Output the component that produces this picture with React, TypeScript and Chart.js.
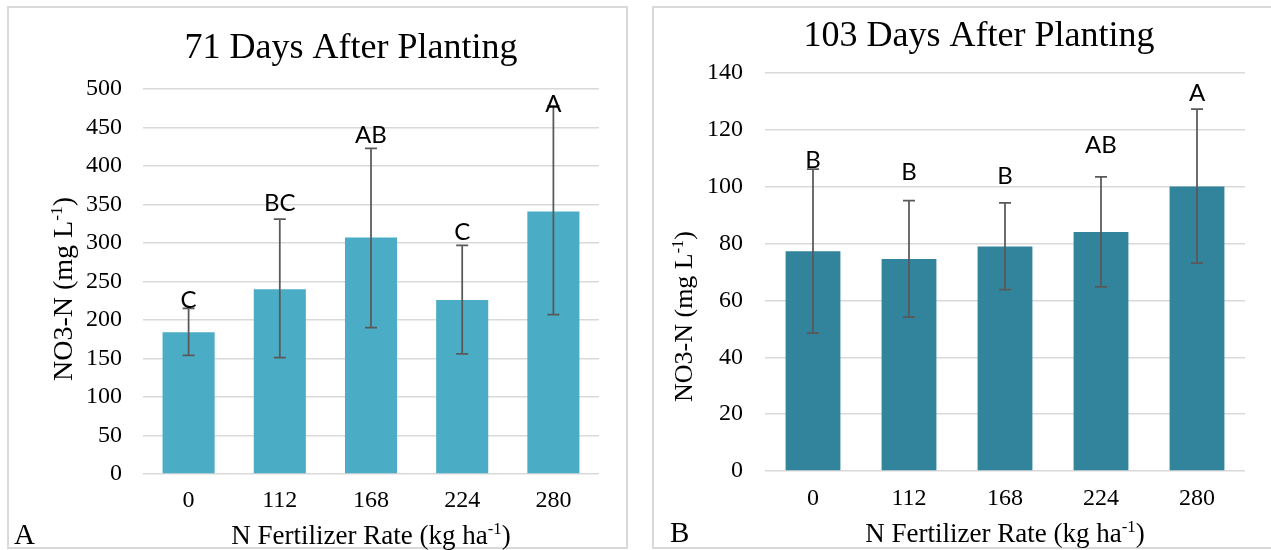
import React, { useEffect, useRef } from "react";
import { Chart, registerables } from "chart.js";

Chart.register(...registerables);

// ---------- data ----------
const rateLabels = ["0", "112", "168", "224", "280"];

const day71Mean = [184, 240, 307, 226, 341];
const day71Low = [154, 151, 190, 156, 207];
const day71High = [215, 331, 423, 297, 478];
const day71Letters = ["C", "BC", "AB", "C", "A"];
const day71LetterAt = [216, 342, 430, 304, 470];
const day71YMax = 500;
const day71YStep = 50;

const day103Mean = [77.3, 74.6, 79.0, 84.1, 100.1];
const day103Low = [48.5, 54.1, 63.8, 64.8, 73.1];
const day103High = [106.2, 95.1, 94.3, 103.5, 127.3];
const day103Letters = ["B", "B", "B", "AB", "A"];
const day103LetterAt = [106.5, 102.4, 101.0, 111.7, 130.0];
const day103YMax = 140;
const day103YStep = 20;

const title71 = "71 Days After Planting";
const title103 = "103 Days After Planting";
const xTitleParts = [
  { t: "N Fertilizer Rate (kg ha" },
  { t: "-1", sup: true },
  { t: ")" },
];
const yTitleParts = [
  { t: "NO3-N (mg L" },
  { t: "-1", sup: true },
  { t: ")" },
];

const SERIF = "'Liberation Serif', 'Times New Roman', serif";
const SANS = "Lato, 'Open Sans', sans-serif";

// ---------- layout per panel ----------
const panels = [
  {
    key: "a",
    canvasLeft: 0,
    width: 640,
    title: title71,
    mean: day71Mean,
    low: day71Low,
    high: day71High,
    letters: day71Letters,
    letterAt: day71LetterAt,
    yMax: day71YMax,
    yStep: day71YStep,
    color: "#4BACC6",
    padTop: 89,
    padRight: 41,
    yAxisW: 143,
    xAxisH: 76,
    yTickPad: 21,
    xTickPad: 15,
    titleX: 351,
    titleY: 58,
    xTitleX: 371,
    xTitleY: 544,
    yTitleX: 71.7,
    yTitleY: 289,
    yTitleSize: 28,
    panelLetter: "A",
    panelLetterX: 14,
    panelLetterY: 544,
  },
  {
    key: "b",
    canvasLeft: 640,
    width: 631,
    title: title103,
    mean: day103Mean,
    low: day103Low,
    high: day103High,
    letters: day103Letters,
    letterAt: day103LetterAt,
    yMax: day103YMax,
    yStep: day103YStep,
    color: "#31849B",
    padTop: 73,
    padRight: 26,
    yAxisW: 125,
    xAxisH: 79,
    yTickPad: 22,
    xTickPad: 16,
    titleX: 339,
    titleY: 45.6,
    xTitleX: 365,
    xTitleY: 542,
    yTitleX: 52,
    yTitleY: 316.6,
    yTitleSize: 26,
    panelLetter: "B",
    panelLetterX: 30,
    panelLetterY: 542,
  },
];

type Part = { t: string; sup?: boolean };

function drawRich(
  ctx: CanvasRenderingContext2D,
  parts: Part[],
  cx: number,
  baseY: number,
  size: number
) {
  const supSize = size * 0.62;
  const widths = parts.map((p) => {
    ctx.font = `${p.sup ? supSize : size}px ${SERIF}`;
    return ctx.measureText(p.t).width;
  });
  const total = widths.reduce((a, b) => a + b, 0);
  let x = cx - total / 2;
  ctx.textAlign = "left";
  ctx.textBaseline = "alphabetic";
  parts.forEach((p, i) => {
    ctx.font = `${p.sup ? supSize : size}px ${SERIF}`;
    ctx.fillText(p.t, x, p.sup ? baseY - size * 0.36 : baseY);
    x += widths[i];
  });
}

function Panel({ p }: { p: any }) {
  const ref = useRef<HTMLCanvasElement>(null);
  useEffect(() => {
    const canvas = ref.current;
    if (!canvas) return;
    const overlay = {
      id: "overlay_" + p.key,
      afterDatasetsDraw(chart: any) {
        const ctx: CanvasRenderingContext2D = chart.ctx;
        const xs = chart.scales.x;
        const ys = chart.scales.y;
        ctx.save();
        // error bars
        ctx.strokeStyle = "#595959";
        ctx.lineWidth = 1.75;
        for (let i = 0; i < p.mean.length; i++) {
          const x = xs.getPixelForValue(i);
          const yh = ys.getPixelForValue(p.high[i]);
          const yl = ys.getPixelForValue(p.low[i]);
          ctx.beginPath();
          ctx.moveTo(x, yh);
          ctx.lineTo(x, yl);
          ctx.moveTo(x - 6, yh);
          ctx.lineTo(x + 6, yh);
          ctx.moveTo(x - 6, yl);
          ctx.lineTo(x + 6, yl);
          ctx.stroke();
        }
        // significance letters
        ctx.fillStyle = "#000";
        ctx.font = `24px ${SANS}`;
        ctx.textAlign = "center";
        ctx.textBaseline = "alphabetic";
        for (let i = 0; i < p.letters.length; i++) {
          const x = xs.getPixelForValue(i);
          const y = ys.getPixelForValue(p.letterAt[i]);
          ctx.fillText(p.letters[i], x, y);
        }
        // chart title
        ctx.font = `36px ${SERIF}`;
        ctx.textAlign = "center";
        ctx.fillText(p.title, p.titleX, p.titleY);
        // x axis title
        drawRich(ctx, xTitleParts, p.xTitleX, p.xTitleY, 27);
        // y axis title
        ctx.save();
        ctx.translate(p.yTitleX, p.yTitleY);
        ctx.rotate(-Math.PI / 2);
        drawRich(ctx, yTitleParts, 0, 0, p.yTitleSize);
        ctx.restore();
        // panel letter
        ctx.font = `29px ${SERIF}`;
        ctx.textAlign = "left";
        ctx.fillText(p.panelLetter, p.panelLetterX, p.panelLetterY);
        ctx.restore();
      },
    };
    const chart = new Chart(canvas, {
      type: "bar",
      data: {
        labels: rateLabels,
        datasets: [
          {
            data: p.mean,
            backgroundColor: p.color,
            borderWidth: 0,
            barPercentage: 0.571,
            categoryPercentage: 1,
          },
        ],
      },
      options: {
        animation: false,
        responsive: false,
        maintainAspectRatio: false,
        devicePixelRatio: 1,
        layout: {
          padding: { top: p.padTop, right: p.padRight, left: 0, bottom: 0 },
        },
        plugins: {
          legend: { display: false },
          tooltip: { enabled: false },
          title: { display: false },
        },
        scales: {
          x: {
            grid: { display: false, drawTicks: false },
            border: { display: false },
            ticks: {
              color: "#000",
              font: { family: SERIF, size: 24, lineHeight: 1 },
              padding: p.xTickPad,
              maxRotation: 0,
            },
            afterFit: (s: any) => {
              s.height = p.xAxisH;
            },
          },
          y: {
            min: 0,
            max: p.yMax,
            grid: { color: "#d9d9d9", lineWidth: 1.5, drawTicks: false },
            border: { display: false },
            ticks: {
              stepSize: p.yStep,
              color: "#000",
              font: { family: SERIF, size: 24, lineHeight: 1 },
              padding: p.yTickPad,
            },
            afterFit: (s: any) => {
              s.width = p.yAxisW;
            },
          },
        },
      },
      plugins: [overlay],
    } as any);
    return () => chart.destroy();
  }, []);
  return (
    <canvas
      ref={ref}
      width={p.width}
      height={550}
      style={{
        position: "absolute",
        left: p.canvasLeft,
        top: 0,
        width: p.width,
        height: 550,
      }}
    />
  );
}

export default function App() {
  return (
    <div
      style={{
        position: "absolute",
        left: 0,
        top: 0,
        width: 1271,
        height: 550,
        overflow: "hidden",
        background: "#fff",
      }}
    >
      <div
        style={{
          position: "absolute",
          left: 7,
          top: 6,
          width: 621,
          height: 543,
          border: "2px solid #d9d9d9",
          boxSizing: "border-box",
        }}
      />
      <div
        style={{
          position: "absolute",
          left: 652,
          top: 6,
          width: 660,
          height: 543,
          border: "2px solid #d9d9d9",
          boxSizing: "border-box",
        }}
      />
      {panels.map((p) => (
        <Panel key={p.key} p={p} />
      ))}
    </div>
  );
}
